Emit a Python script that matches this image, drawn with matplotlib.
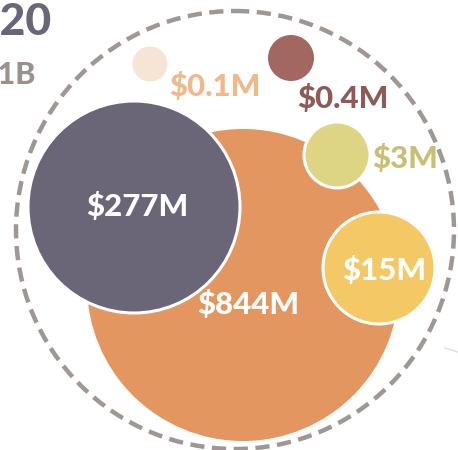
"""Packed bubble chart of funding amounts (cropped view)."""
import matplotlib.pyplot as plt
from matplotlib.patches import Circle

# data
labels = ["$844M", "$277M", "$15M", "$3M", "$0.4M", "$0.1M"]
values = [844, 277, 15, 3, 0.4, 0.1]
colors = ["#E3965F", "#6A6678", "#F4C865", "#DDD484", "#A36762", "#F6E4D4"]
label_colors = ["white", "white", "white", "#C9BF72", "#8E5A57", "#F0B98A"]

# layout (pixel coords of the packed layout)
centers = [(243, 285), (134, 207), (379, 268), (337, 155), (291, 58), (150, 64)]
radii = [156, 106, 56, 33, 23, 17.5]
label_pos = [(248, 305), (137, 206), (384, 270), (405, 158), (343, 98), (215, 87)]
outer_center, outer_r = (235, 230), 219

plt.rcParams['font.family'] = ['Lato', 'DejaVu Sans']

fig = plt.figure(figsize=(4.58, 4.5), dpi=100)
ax = fig.add_axes([0, 0, 1, 1])
ax.set_xlim(0, 458)
ax.set_ylim(450, 0)
ax.set_aspect('equal')
ax.axis('off')

# dashed outline around the group
ax.add_patch(Circle(outer_center, outer_r, fill=False, edgecolor="#9E9793",
                    linewidth=3.2, linestyle=(0, (3.2, 1.7)), zorder=1))

# faint leader line on the right
ax.plot([445, 458], [348, 352], color="#E2E2E2", linewidth=1.2, zorder=1)

for i, (lab, val) in enumerate(zip(labels, values)):
    edge = "white" if i in (1, 2, 3) else "none"
    ax.add_patch(Circle(centers[i], radii[i], facecolor=colors[i],
                        edgecolor=edge, linewidth=2.2, zorder=2 + i))
    ax.text(label_pos[i][0], label_pos[i][1], lab, color=label_colors[i],
            fontsize=22.5, fontweight='black', ha='center', va='center', zorder=10)

# cropped headline text in the top-left corner
ax.text(52, 22, "2020", color="#6A6678", fontsize=32, fontweight='black',
        ha='right', va='center')
ax.text(36, 74, "$1.1B", color="#9A918F", fontsize=22, fontweight='black',
        ha='right', va='center')

fig.savefig("out.png", dpi=100)
